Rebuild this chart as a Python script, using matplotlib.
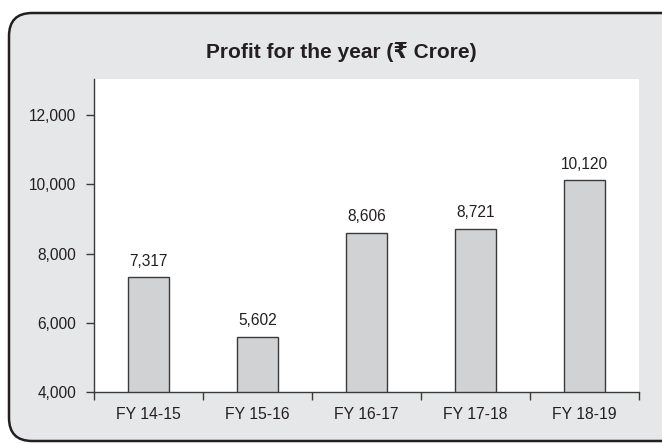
import numpy as np
import matplotlib.pyplot as plt
from matplotlib.patches import FancyBboxPatch
from matplotlib.ticker import FuncFormatter, FixedLocator

years = ['FY 14-15', 'FY 15-16', 'FY 16-17', 'FY 17-18', 'FY 18-19']
profit = [7317, 5602, 8606, 8721, 10120]
yticks = [4000, 6000, 8000, 10000, 12000]

plt.rcParams['font.family'] = ['Liberation Sans', 'DejaVu Sans']

fig = plt.figure(figsize=(6.62, 4.44), dpi=100)
fig.patch.set_facecolor('white')

# rounded grey panel behind everything (runs off the right edge like the source)
box = FancyBboxPatch((9 / 662, 3 / 444), 680 / 662, 428 / 444,
                     boxstyle='round,pad=0,rounding_size=0.035',
                     transform=fig.transFigure, facecolor='#e6e7e8',
                     edgecolor='#231f20', linewidth=1.8, zorder=-5,
                     mutation_aspect=662 / 444)
fig.patches.append(box)

ax = fig.add_axes([94 / 662, 1 - 392 / 444, 545 / 662, 313 / 444])
ax.set_zorder(2)
ax.set_facecolor('white')

x = np.arange(len(years))
ax.bar(x, profit, width=0.385, bottom=0, color='#d1d2d4', edgecolor='#3a3a3a', linewidth=1)
for xi, v in zip(x, profit):
    ax.text(xi, v + 250, f'{v:,}', ha='center', va='bottom', fontsize=11.2, color='#231f20')

ax.set_xlim(-0.5, len(years) - 0.5)
ax.set_ylim(4000, 13050)
ax.set_yticks(yticks)
ax.yaxis.set_major_formatter(FuncFormatter(lambda v, p: f'{int(v):,}'))
ax.set_xticks(x)
ax.set_xticklabels(years)
ax.xaxis.set_minor_locator(FixedLocator(np.arange(-0.5, len(years), 1.0)))
ax.tick_params(axis='x', which='major', length=0, pad=11, labelsize=11.3, colors='#231f20')
ax.tick_params(axis='x', which='minor', length=6, width=1, color='#3a3a3a', direction='out')
ax.tick_params(axis='y', length=6, width=1, color='#3a3a3a', pad=7, labelsize=11.2, labelcolor='#231f20')

for s in ['top', 'right']:
    ax.spines[s].set_visible(False)
for s in ['left', 'bottom']:
    ax.spines[s].set_color('#3a3a3a')
    ax.spines[s].set_linewidth(1)

fig.text(341 / 662, 1 - 52 / 444, 'Profit for the year (₹ Crore)', ha='center', va='center',
         fontsize=15, fontweight='bold', color='#231f20')

fig.savefig('out.png', dpi=100)
